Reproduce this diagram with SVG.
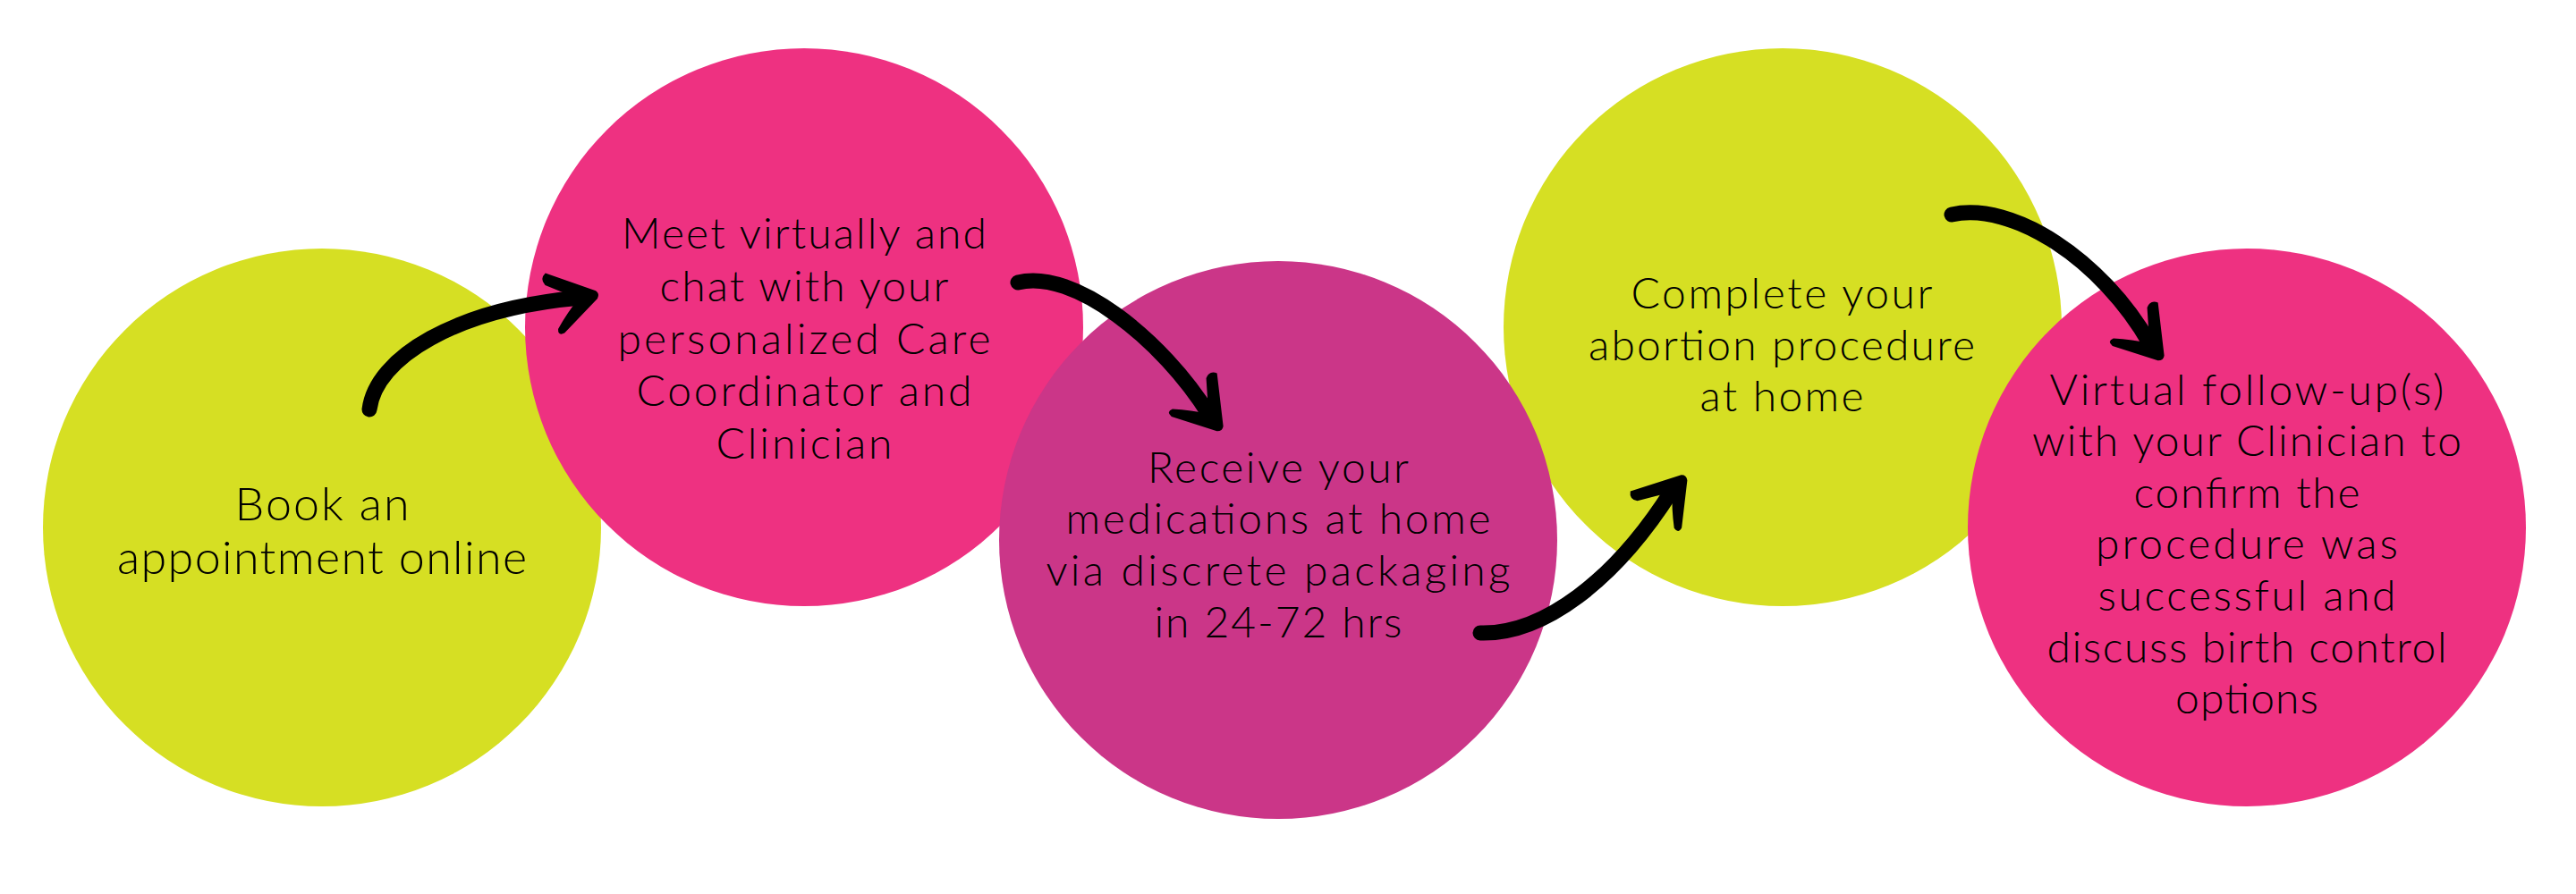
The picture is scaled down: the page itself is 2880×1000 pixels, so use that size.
<svg xmlns="http://www.w3.org/2000/svg" xmlns:xlink="http://www.w3.org/1999/xlink" width="2880" height="1000" viewBox="0 0 2880 1000">
  <style>
    .yellow { fill: #D6DF23; }
    .pink { fill: #EE3181; }
    .magenta { fill: #CB3688; }
    .label { font-family: "Lato", "Open Sans", "Liberation Sans", sans-serif; font-weight: 300; fill: #000; text-anchor: middle; font-size: 48px; }
    .big { font-size: 52px; }
    .shaft { fill: none; stroke: #000; stroke-width: 17; stroke-linecap: round; }
    .head { fill: #000; }
  </style>
  <defs>
    <path id="arrowhead" d="M 4 -4 Q 8 0 4 5 L -40 35 Q -48 37 -46 29 Q -32 13 -17 1 Q -32 -10 -50 -22 Q -55 -30 -47 -35 Z"/>
  </defs>
  <rect width="2880" height="1000" fill="#FFFFFF"/>

  <g id="node-1">
    <circle class="yellow" cx="360" cy="590" r="312"/>
    <text class="label big" x="360" y="582" textLength="195">Book an</text>
    <text class="label big" x="360" y="642" textLength="458">appointment online</text>
  </g>

  <g id="node-2">
    <circle class="pink" cx="899" cy="366" r="312"/>
    <text class="label" x="899" y="278" textLength="408">Meet virtually and</text>
    <text class="label" x="899" y="337" textLength="323">chat with your</text>
    <text class="label" x="899" y="396" textLength="417">personalized Care</text>
    <text class="label" x="899" y="454" textLength="375">Coordinator and</text>
    <text class="label" x="899" y="513" textLength="197">Clinician</text>
  </g>

  <g id="node-4">
    <circle class="yellow" cx="1993" cy="366" r="312"/>
    <text class="label" x="1992" y="345" textLength="337">Complete your</text>
    <text class="label" x="1992" y="403" textLength="432">abortion procedure</text>
    <text class="label" x="1992" y="460" textLength="183">at home</text>
  </g>

  <g id="node-3">
    <circle class="magenta" cx="1429" cy="604" r="312"/>
    <text class="label" x="1429" y="540" textLength="292">Receive your</text>
    <text class="label" x="1429" y="597" textLength="475">medications at home</text>
    <text class="label" x="1429" y="655" textLength="519">via discrete packaging</text>
    <text class="label" x="1429" y="713" textLength="277">in 24-72 hrs</text>
  </g>

  <g id="node-5">
    <circle class="pink" cx="2512" cy="590" r="312"/>
    <text class="label" x="2512" y="453" textLength="441">Virtual follow-up(s)</text>
    <text class="label" x="2512" y="510" textLength="480">with your Clinician to</text>
    <text class="label" x="2512" y="568" textLength="253">confirm the</text>
    <text class="label" x="2512" y="625" textLength="338">procedure was</text>
    <text class="label" x="2512" y="683" textLength="333">successful and</text>
    <text class="label" x="2512" y="741" textLength="447">discuss birth control</text>
    <text class="label" x="2512" y="798" textLength="160">options</text>
  </g>

  <g id="connectors">
    <path class="shaft" d="M 413 458 C 420 400, 510 345, 650 333"/>
    <use href="#arrowhead" xlink:href="#arrowhead" class="head" transform="translate(663 330) rotate(-12)"/>

    <path class="shaft" d="M 1138 316 C 1200 300, 1300 380, 1352 464"/>
    <use href="#arrowhead" xlink:href="#arrowhead" class="head" transform="translate(1362 476) rotate(52)"/>

    <path class="shaft" d="M 1655 708 C 1725 710, 1805 650, 1869 549"/>
    <use href="#arrowhead" xlink:href="#arrowhead" class="head" transform="translate(1880 537) rotate(-49)"/>

    <path class="shaft" d="M 2182 240 C 2250 225, 2350 290, 2404 385"/>
    <use href="#arrowhead" xlink:href="#arrowhead" class="head" transform="translate(2414 397) rotate(52)"/>
  </g>
</svg>
